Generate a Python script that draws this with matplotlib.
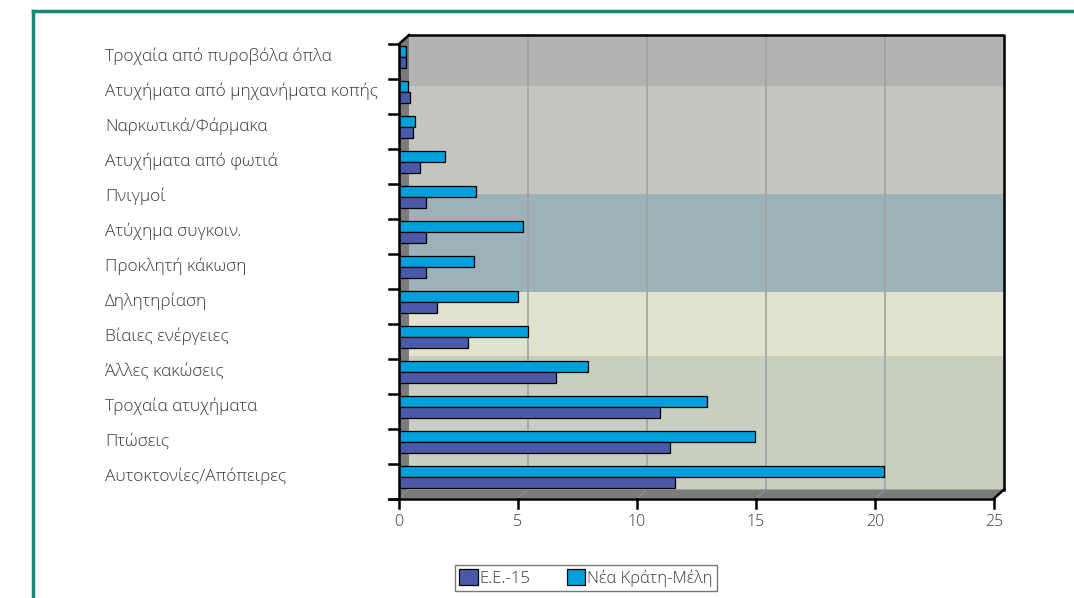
"""Horizontal bar chart of injury causes, EU-15 vs new member states, drawn
with a pseudo-3D back wall and floor."""
import matplotlib
matplotlib.use("Agg")
import matplotlib.pyplot as plt
import matplotlib.transforms as mtransforms
from matplotlib.patches import Polygon, Rectangle
from matplotlib.lines import Line2D

# categories, top to bottom
categories = [
    "Τροχαία από πυροβόλα όπλα",
    "Ατυχήματα από μηχανήματα κοπής",
    "Ναρκωτικά/Φάρμακα",
    "Ατυχήματα από φωτιά",
    "Πνιγμοί",
    "Ατύχημα συγκοιν.",
    "Προκλητή κάκωση",
    "Δηλητηρίαση",
    "Βίαιες ενέργειες",
    "Άλλες κακώσεις",
    "Τροχαία ατυχήματα",
    "Πτώσεις",
    "Αυτοκτονίες/Απόπειρες",
]
eu15 = [0.3, 0.45, 0.57, 0.87, 1.12, 1.12, 1.12, 1.6, 2.88, 6.6, 10.97, 11.37, 11.6]
new_states = [0.3, 0.38, 0.67, 1.92, 3.22, 5.23, 3.17, 4.98, 5.4, 7.94, 12.95, 14.95, 20.38]
series_names = ["Ε.Ε.-15", "Νέα Κράτη-Μέλη"]
xticks = [0, 5, 10, 15, 20, 25]

C_EU = "#4a5aa8"
C_NEW = "#00a0dc"
FLOOR = "#7b7b7b"
TEAL = "#138a78"
TXT = "#3a3a3a"
FONT = "Open Sans"
# horizontal colour bands on the back wall: (bottom, top, colour) in data y
BANDS = [(0, 3.81, "#c9cfc0"), (3.81, 5.64, "#e1e2ce"), (5.64, 8.45, "#9db2b8"),
         (8.45, 11.55, "#c5c5c0"), (11.55, 13, "#b3b3b3")]

W, H = 1074, 598
fig = plt.figure(figsize=(W / 100, H / 100), dpi=100)

x0, x1, ytop, ybot = 399, 994, 44, 498.5
ax = fig.add_axes([x0 / W, 1 - ybot / H, (x1 - x0) / W, (ybot - ytop) / H])
ax.set_xlim(0, 25)
ax.set_ylim(0, 13)
ax.axis("off")

n = len(categories)
pos = list(range(n))[::-1]  # first category at top
depth = mtransforms.ScaledTranslation(0.10, 0.09, fig.dpi_scale_trans)
back = ax.transData + depth

# back wall bands, gridlines, outline
for lo, hi, col in BANDS:
    ax.add_patch(Rectangle((0, lo), 25, hi - lo, transform=back, color=col, lw=0,
                           zorder=0, clip_on=False))
for xv in xticks[1:-1]:
    ax.add_line(Line2D([xv, xv], [0, 13], transform=back, color="#a2a2a2", lw=1.2,
                       zorder=1, clip_on=False))
ax.add_line(Line2D([0, 25, 25], [13, 13, 0], transform=back, color="black", lw=1.8,
                   zorder=1, clip_on=False))

# left wall and floor (parallelograms between front and back planes)
dx, dy = 25 * 10 / (x1 - x0), 13 * 9 / (ybot - ytop)
ax.add_patch(Polygon([(0, 0), (dx, dy), (dx, 13 + dy), (0, 13)], closed=True,
                     color=FLOOR, lw=0, zorder=1, clip_on=False))
ax.add_patch(Polygon([(0, 0), (25, 0), (25 + dx, dy), (dx, dy)], closed=True,
                     color=FLOOR, lw=0, zorder=1, clip_on=False))
for xv in xticks[1:-1]:
    ax.add_line(Line2D([xv, xv + dx], [0, dy], color="#8e8e8e", lw=1, zorder=1, clip_on=False))
ax.add_line(Line2D([0, dx], [13, 13 + dy], color="black", lw=1.8, zorder=1, clip_on=False))
ax.add_line(Line2D([25, 25 + dx], [0, dy], color="black", lw=1.8, zorder=1, clip_on=False))

# bars
h = 0.31
base = [p + 0.62 for p in pos]
ax.barh([b + h / 2 for b in base], new_states, height=h, color=C_NEW, edgecolor="black",
        lw=0.9, zorder=3, label=series_names[1], clip_on=False)
ax.barh([b - h / 2 for b in base], eu15, height=h, color=C_EU, edgecolor="black",
        lw=0.9, zorder=3, label=series_names[0], clip_on=False)

# axes lines and ticks
ax.add_line(Line2D([0, 0], [0, 13], color="black", lw=1.8, zorder=4, clip_on=False))
ax.add_line(Line2D([-0.4, 25], [0, 0], color="black", lw=1.8, zorder=4, clip_on=False))
tick_len = 0.4
for k in range(n + 1):
    ax.add_line(Line2D([-tick_len, 0], [k, k], color="black", lw=1.8, zorder=4, clip_on=False))
for xv in xticks:
    ax.add_line(Line2D([xv, xv], [0, -0.28], color="black", lw=1.8, zorder=4, clip_on=False))
    ax.text(xv, -0.45, str(xv), ha="center", va="top", fontsize=11.5, family=FONT,
            color=TXT, fontweight="light")

# category labels, left aligned in the margin
lab_tr = mtransforms.blended_transform_factory(fig.transFigure, ax.transData)
for p, name in zip(pos, categories):
    ax.text(105 / W, p + 0.64, name, transform=lab_tr, ha="left", va="center",
            fontsize=12.4, family=FONT, color=TXT, fontweight="light")

# legend
handles, labels = ax.get_legend_handles_labels()
leg = fig.legend(handles[::-1], labels[::-1], loc="center", bbox_to_anchor=(586 / W, 1 - 578 / H),
                 ncol=2, frameon=True, fancybox=False, edgecolor="#555555", handlelength=1.1,
                 handleheight=1.1, handletextpad=0.1, columnspacing=2.2, borderpad=0.25,
                 borderaxespad=0, prop={"family": FONT, "size": 12, "weight": "light"})
leg.get_frame().set_linewidth(1.0)
for t in leg.get_texts():
    t.set_color(TXT)

# teal frame, top and left edges only
fig.add_artist(Line2D([33 / W, 1], [1 - 11 / H, 1 - 11 / H], transform=fig.transFigure,
                      color=TEAL, lw=2.5))
fig.add_artist(Line2D([33 / W, 33 / W], [0, 1 - 11 / H], transform=fig.transFigure,
                      color=TEAL, lw=2.5))

fig.savefig("out.png", dpi=100)
